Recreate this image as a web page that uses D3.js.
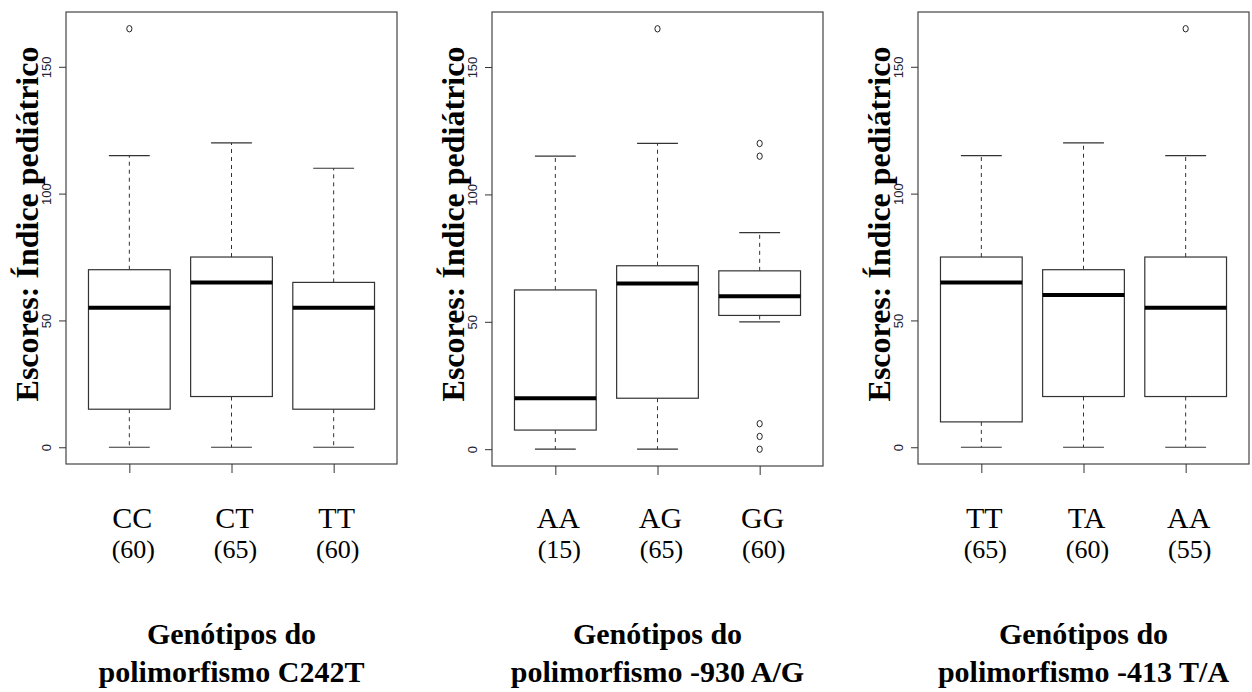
<!DOCTYPE html>
<html>

<head>
    <script src="https://d3js.org/d3.v7.min.js"></script>
    <style>
        body {
            margin: 0;
            background: white;
        }

        .frame {
            fill: none;
            stroke: #444;
            stroke-width: 1.2px;
        }

        .box {
            fill: white;
            stroke: #333;
            stroke-width: 1.2px;
        }

        .median {
            stroke: black;
            stroke-width: 4px;
        }

        .whisker {
            stroke: #333;
            stroke-width: 1px;
            stroke-dasharray: 4, 4;
        }

        .cap {
            stroke: #333;
            stroke-width: 1.2px;
        }

        .outlier {
            fill: none;
            stroke: #222;
            stroke-width: 1px;
        }

        .axis text {
            font-family: Arial, "Liberation Sans", Helvetica, sans-serif;
            font-size: 13px;
            fill: #223;
        }

        .axis line {
            stroke: #333;
        }

        .ytitle, .title {
            font-family: "Times New Roman", Times, "Liberation Serif", serif;
            font-weight: bold;
            fill: black;
        }

        .cat, .count {
            font-family: "Times New Roman", Times, "Liberation Serif", serif;
            fill: black;
        }

    </style>
</head>

<body>
    <svg id="chart" width="1252" height="692"></svg>

    <script>
        // data: [min, q1, median, q3, max]
        var c242Cats = ["CC", "CT", "TT"];
        var c242Counts = [60, 65, 60];
        var c242Stats = [[0, 15, 55, 70, 115], [0, 20, 65, 75, 120], [0, 15, 55, 65, 110]];
        var c242Outliers = [[165], [], []];

        var a930Cats = ["AA", "AG", "GG"];
        var a930Counts = [15, 65, 60];
        var a930Stats = [[0, 7.5, 20, 62.5, 115], [0, 20, 65, 72, 120], [50, 52.5, 60, 70, 85]];
        var a930Outliers = [[], [165], [120, 115, 10, 5, 0]];

        var t413Cats = ["TT", "TA", "AA"];
        var t413Counts = [65, 60, 55];
        var t413Stats = [[0, 10, 65, 75, 115], [0, 20, 60, 70, 120], [0, 20, 55, 75, 115]];
        var t413Outliers = [[], [], [165]];

        var yTicks = [0, 50, 100, 150];
        var yTitle = "Escores: Índice pediátrico";

        var panels = [
            { cats: c242Cats, counts: c242Counts, stats: c242Stats, outliers: c242Outliers,
              title: ["Genótipos do", "polimorfismo C242T"], left: 66, bottom: 464 },
            { cats: a930Cats, counts: a930Counts, stats: a930Stats, outliers: a930Outliers,
              title: ["Genótipos do", "polimorfismo -930 A/G"], left: 492, bottom: 466 },
            { cats: t413Cats, counts: t413Counts, stats: t413Stats, outliers: t413Outliers,
              title: ["Genótipos do", "polimorfismo -413 T/A"], left: 918, bottom: 464 }
        ];

        var plotWidth = 331;
        var plotTop = 12;

        var svg = d3.select("#chart");

        panels.forEach(function (p) {
            var g = svg.append("g");

            var x = d3.scalePoint()
                .domain(p.cats)
                .range([p.left, p.left + plotWidth])
                .padding(0.62);
            var step = x.step();

            var y = d3.scaleLinear()
                .domain([-6.6, 171.6])
                .range([p.bottom, plotTop]);

            var boxW = step * 0.8;
            var capW = step * 0.4;

            var rows = p.cats.map(function (c, i) {
                return { cat: c, s: p.stats[i], out: p.outliers[i], n: p.counts[i] };
            });

            // whiskers
            g.selectAll(".whiskerUp").data(rows).enter().append("line")
                .attr("class", "whisker")
                .attr("x1", function (d) { return x(d.cat); })
                .attr("x2", function (d) { return x(d.cat); })
                .attr("y1", function (d) { return y(d.s[3]); })
                .attr("y2", function (d) { return y(d.s[4]); });

            g.selectAll(".whiskerDown").data(rows).enter().append("line")
                .attr("class", "whisker")
                .attr("x1", function (d) { return x(d.cat); })
                .attr("x2", function (d) { return x(d.cat); })
                .attr("y1", function (d) { return y(d.s[1]); })
                .attr("y2", function (d) { return y(d.s[0]); });

            [0, 4].forEach(function (k) {
                g.selectAll(".cap" + k).data(rows).enter().append("line")
                    .attr("class", "cap")
                    .attr("x1", function (d) { return x(d.cat) - capW / 2; })
                    .attr("x2", function (d) { return x(d.cat) + capW / 2; })
                    .attr("y1", function (d) { return y(d.s[k]); })
                    .attr("y2", function (d) { return y(d.s[k]); });
            });

            g.selectAll(".box").data(rows).enter().append("rect")
                .attr("class", "box")
                .attr("x", function (d) { return x(d.cat) - boxW / 2; })
                .attr("width", boxW)
                .attr("y", function (d) { return y(d.s[3]); })
                .attr("height", function (d) { return y(d.s[1]) - y(d.s[3]); });

            g.selectAll(".median").data(rows).enter().append("line")
                .attr("class", "median")
                .attr("x1", function (d) { return x(d.cat) - boxW / 2; })
                .attr("x2", function (d) { return x(d.cat) + boxW / 2; })
                .attr("y1", function (d) { return y(d.s[2]); })
                .attr("y2", function (d) { return y(d.s[2]); });

            rows.forEach(function (d) {
                g.selectAll(null).data(d.out).enter().append("ellipse")
                    .attr("class", "outlier")
                    .attr("cx", x(d.cat))
                    .attr("cy", function (v) { return y(v); })
                    .attr("rx", 2.6)
                    .attr("ry", 3.2);
            });

            // frame
            g.append("rect")
                .attr("class", "frame")
                .attr("x", p.left)
                .attr("y", plotTop)
                .attr("width", plotWidth)
                .attr("height", p.bottom - plotTop);

            // y axis with rotated labels
            var yAxis = g.append("g")
                .attr("class", "axis")
                .attr("transform", "translate(" + p.left + ",0)")
                .call(d3.axisLeft(y).tickValues(yTicks).tickSize(7));
            yAxis.select(".domain").remove();
            yAxis.selectAll("text")
                .attr("transform", "rotate(-90)")
                .attr("x", 0)
                .attr("y", -15)
                .attr("dy", 0)
                .attr("text-anchor", "middle");

            // x ticks
            var xAxis = g.append("g")
                .attr("class", "axis")
                .attr("transform", "translate(0," + p.bottom + ")")
                .call(d3.axisBottom(x).tickSize(9).tickFormat(""));
            xAxis.select(".domain").remove();

            g.append("text")
                .attr("class", "ytitle")
                .attr("transform", "translate(" + (p.left - 28) + ",224) rotate(-90)")
                .attr("text-anchor", "middle")
                .attr("font-size", 32)
                .text(yTitle);

            g.selectAll(".cat").data(rows).enter().append("text")
                .attr("class", "cat")
                .attr("x", function (d) { return x(d.cat) + 3; })
                .attr("y", 528)
                .attr("text-anchor", "middle")
                .attr("font-size", 30)
                .text(function (d) { return d.cat; });

            g.selectAll(".count").data(rows).enter().append("text")
                .attr("class", "count")
                .attr("x", function (d) { return x(d.cat) + 4; })
                .attr("y", 558)
                .attr("text-anchor", "middle")
                .attr("font-size", 26)
                .text(function (d) { return "(" + d.n + ")"; });

            g.selectAll(".title").data(p.title).enter().append("text")
                .attr("class", "title")
                .attr("x", p.left + plotWidth / 2)
                .attr("y", function (d, i) { return 644 + i * 38; })
                .attr("text-anchor", "middle")
                .attr("font-size", 30)
                .text(function (d) { return d; });
        });

    </script>
</body>

</html>
